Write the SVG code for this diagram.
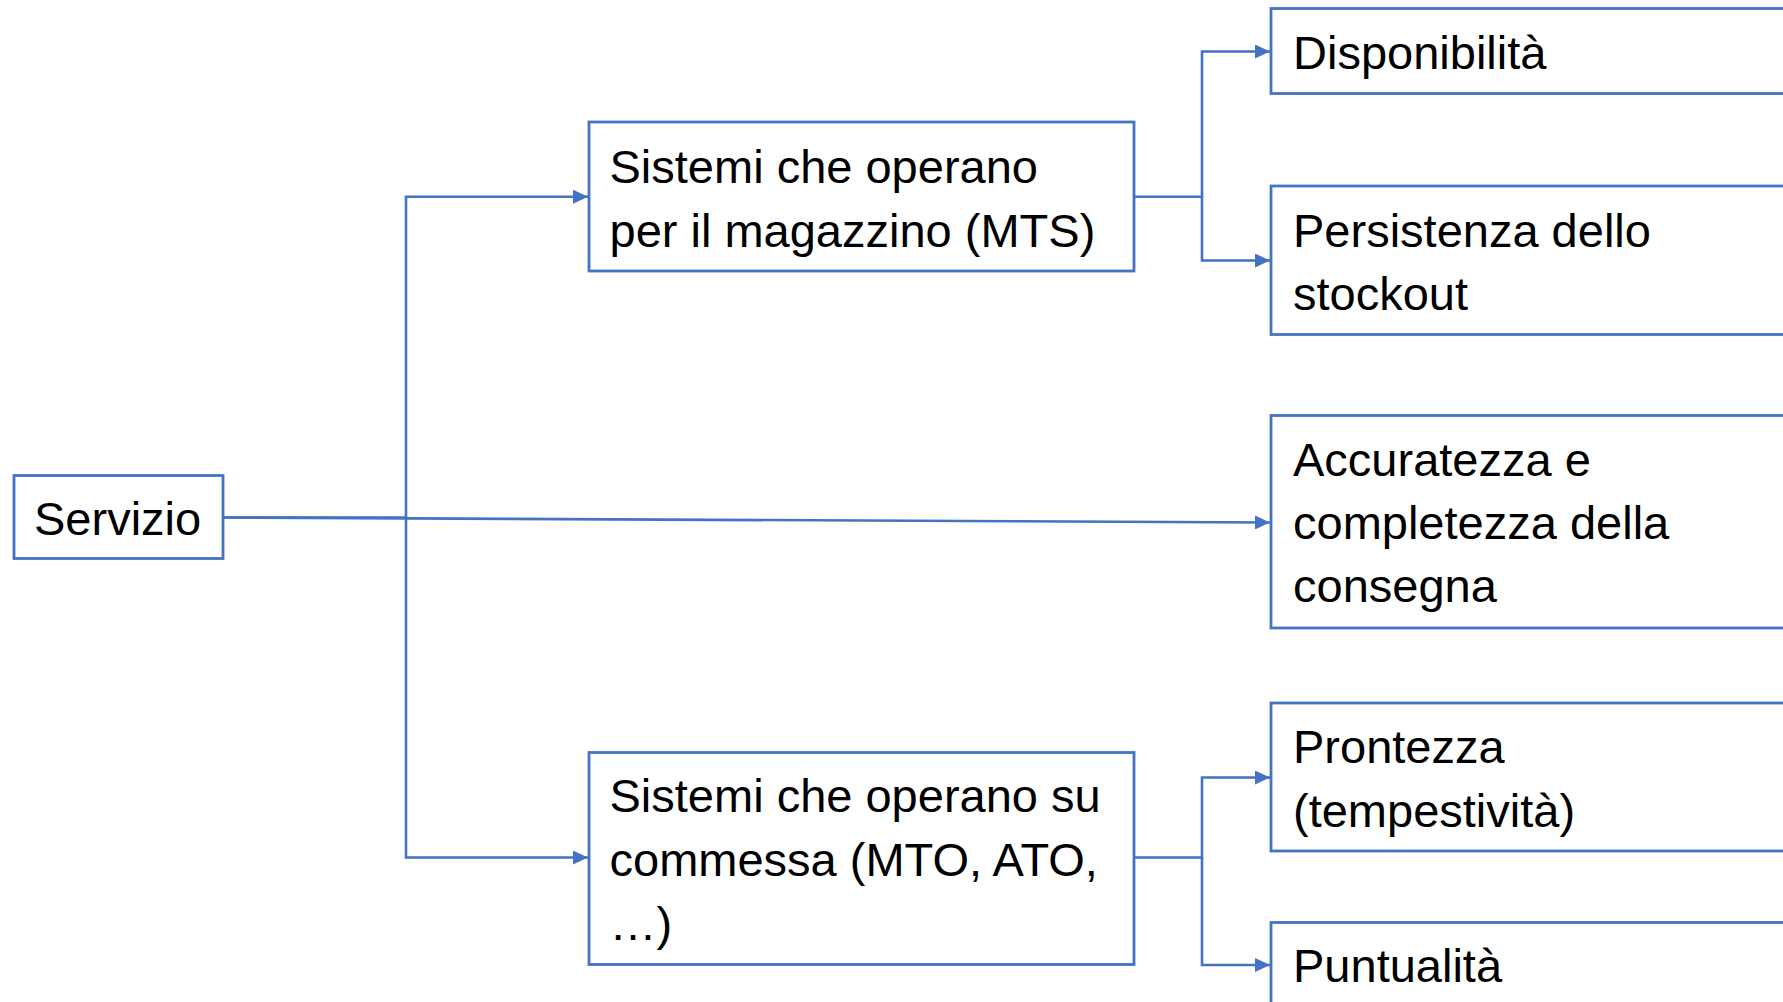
<svg xmlns="http://www.w3.org/2000/svg" width="1783" height="1002" viewBox="0 0 1783 1002">
<style>
.box{fill:#fff;stroke:#4472C4;stroke-width:2.8}
.t{font-family:"Liberation Sans",Arial,sans-serif;font-size:47px;fill:#000}
.c{fill:none;stroke:#4472C4;stroke-width:2.6}
</style>
<defs>
<marker id="ah" markerUnits="userSpaceOnUse" markerWidth="15" markerHeight="14" viewBox="0 0 15 14" refX="15" refY="7" orient="auto">
<path d="M0,0 L15,7 L0,14 Z" fill="#4472C4"/>
</marker>
</defs>
<rect width="1783" height="1002" fill="#fff"/>
<g id="connectors">
<path class="c" d="M223,517.5 H406 V196.7 H588" marker-end="url(#ah)"/>
<path class="c" d="M406,517.5 V857.5 H588" marker-end="url(#ah)"/>
<path class="c" d="M223,517.5 L1270,522.5" marker-end="url(#ah)"/>
<path class="c" d="M1134,196.7 H1202 V51.5 H1270" marker-end="url(#ah)"/>
<path class="c" d="M1202,196.7 V260.5 H1270" marker-end="url(#ah)"/>
<path class="c" d="M1134,857.5 H1202 V777.5 H1270" marker-end="url(#ah)"/>
<path class="c" d="M1202,857.5 V965 H1270" marker-end="url(#ah)"/>
</g>
<g id="servizio">
<rect class="box" x="14" y="475.5" width="209" height="83"/>
<text class="t" x="34" y="535">Servizio</text>
</g>
<g id="mts">
<rect class="box" x="589" y="122" width="545" height="149"/>
<text class="t" x="609.5" y="183">Sistemi che operano</text>
<text class="t" x="609.5" y="246.5">per il magazzino (MTS)</text>
</g>
<g id="commessa">
<rect class="box" x="589" y="752.5" width="545" height="212"/>
<text class="t" x="609.5" y="812">Sistemi che operano su</text>
<text class="t" x="609.5" y="875.5">commessa (MTO, ATO,</text>
<text class="t" x="609.5" y="939.5">…)</text>
</g>
<g id="disponibilita">
<rect class="box" x="1271" y="8.5" width="540" height="85"/>
<text class="t" x="1293" y="69">Disponibilità</text>
</g>
<g id="persistenza">
<rect class="box" x="1271" y="186" width="540" height="148.5"/>
<text class="t" x="1293" y="246.5">Persistenza dello</text>
<text class="t" x="1293" y="310">stockout</text>
</g>
<g id="accuratezza">
<rect class="box" x="1271" y="415.5" width="540" height="212.5"/>
<text class="t" x="1293" y="475.5">Accuratezza e</text>
<text class="t" x="1293" y="539">completezza della</text>
<text class="t" x="1293" y="602">consegna</text>
</g>
<g id="prontezza">
<rect class="box" x="1271" y="703" width="540" height="148"/>
<text class="t" x="1293" y="762.5">Prontezza</text>
<text class="t" x="1293" y="826.5">(tempestività)</text>
</g>
<g id="puntualita">
<rect class="box" x="1271" y="922.5" width="540" height="100"/>
<text class="t" x="1293" y="982">Puntualità</text>
</g>
</svg>
